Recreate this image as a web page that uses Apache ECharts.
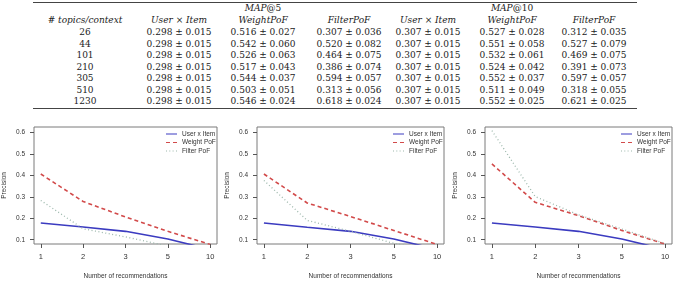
<!DOCTYPE html>
<html>
<head>
<meta charset="utf-8">
<script src="https://cdn.jsdelivr.net/npm/echarts@6/dist/echarts.min.js"></script>
<style>
  html, body { margin: 0; padding: 0; background: #fff; }
  #wrap { position: relative; width: 675px; height: 282px; overflow: hidden; }
  #chart { position: absolute; left: 0; top: 0; width: 675px; height: 282px; }
  #table { position: absolute; left: 0; top: 0; width: 675px; height: 115px;
    font-family: 'DejaVu Serif', serif; font-size: 9px; color: #222; }
  .cell { position: absolute; width: 110px; text-align: center; line-height: 12px; height: 12px; white-space: nowrap; }
  .rule { position: absolute; left: 33px; width: 604px; background: #444; }
</style>
</head>
<body>
<div id="wrap">
  <div id="table"></div>
  <div id="chart"></div>
</div>
<script>
// table values
var topics = [26, 44, 101, 210, 305, 510, 1230]
var map5User = [[0.298, 0.015], [0.298, 0.015], [0.298, 0.015], [0.298, 0.015], [0.298, 0.015], [0.298, 0.015], [0.298, 0.015]]
var map5Weight = [[0.516, 0.027], [0.542, 0.060], [0.526, 0.063], [0.517, 0.043], [0.544, 0.037], [0.503, 0.051], [0.546, 0.024]]
var map5Filter = [[0.307, 0.036], [0.520, 0.082], [0.464, 0.075], [0.386, 0.074], [0.594, 0.057], [0.313, 0.056], [0.618, 0.024]]
var map10User = [[0.307, 0.015], [0.307, 0.015], [0.307, 0.015], [0.307, 0.015], [0.307, 0.015], [0.307, 0.015], [0.307, 0.015]]
var map10Weight = [[0.527, 0.028], [0.551, 0.058], [0.532, 0.061], [0.524, 0.042], [0.552, 0.037], [0.511, 0.049], [0.552, 0.025]]
var map10Filter = [[0.312, 0.035], [0.527, 0.079], [0.469, 0.075], [0.391, 0.073], [0.597, 0.057], [0.318, 0.055], [0.621, 0.025]]

// chart values
var xLabels = ['1', '2', '3', '5', '10']
var xPos = [1, 2, 3, 4, 5]
var yTicks = [0.1, 0.2, 0.3, 0.4, 0.5, 0.6]
var seriesNames = ['User x Item', 'Weight PoF', 'Filter PoF']
var userItem1 = [0.178, 0.159, 0.139, 0.103, 0.055]
var weightPoF1 = [0.406, 0.278, 0.206, 0.139, 0.078]
var filterPoF1 = [0.283, 0.151, 0.113, 0.070, 0.040]
var userItem2 = [0.178, 0.158, 0.139, 0.103, 0.055]
var weightPoF2 = [0.406, 0.271, 0.208, 0.143, 0.078]
var filterPoF2 = [0.376, 0.190, 0.139, 0.083, 0.050]
var userItem3 = [0.178, 0.159, 0.139, 0.103, 0.055]
var weightPoF3 = [0.453, 0.274, 0.212, 0.143, 0.080]
var filterPoF3 = [0.608, 0.301, 0.216, 0.150, 0.082]

// ---- table ----
var tbl = document.getElementById('table')
var colX = [85, 179, 263, 349, 428, 512, 594]
function cell (x, y, html) {
  var d = document.createElement('div')
  d.className = 'cell'
  d.style.left = (x - 55) + 'px'
  d.style.top = (y - 6) + 'px'
  d.innerHTML = html
  tbl.appendChild(d)
}
function rule (y, h) {
  var d = document.createElement('div')
  d.className = 'rule'
  d.style.top = y + 'px'
  d.style.height = h + 'px'
  tbl.appendChild(d)
}
function pm (v) {
  return v[0].toFixed(3) + ' ± ' + v[1].toFixed(3)
}
rule(2, 1.2)
cell(colX[2], 8, '<i>MAP</i>@5')
cell(colX[5], 8, '<i>MAP</i>@10')
var heads = ['# <i>topics/context</i>', '<i>User</i> × <i>Item</i>', '<i>WeightPoF</i>', '<i>FilterPoF</i>',
  '<i>User</i> × <i>Item</i>', '<i>WeightPoF</i>', '<i>FilterPoF</i>']
heads.forEach(function (h, i) { cell(colX[i], 19.5, h) })
var cols = [map5User, map5Weight, map5Filter, map10User, map10Weight, map10Filter]
topics.forEach(function (t, r) {
  var y = 32 + r * 11.5
  cell(colX[0], y, String(t))
  cols.forEach(function (c, i) { cell(colX[i + 1], y, pm(c[r])) })
})
rule(107.5, 1.2)

// ---- charts ----
var chart = echarts.init(document.getElementById('chart'))
var grids = [{ left: 30 }, { left: 257 }, { left: 485 }]
var data = [
  [userItem1, weightPoF1, filterPoF1],
  [userItem2, weightPoF2, filterPoF2],
  [userItem3, weightPoF3, filterPoF3]
]
var lineStyles = [
  { color: '#3b3bc0', width: 1.6, type: 'solid' },
  { color: '#d24a4a', width: 1.6, type: [4, 3] },
  { color: '#9db8ac', width: 1.3, type: [1, 2.5] }
]
// legend icons drawn as short line samples
var legendIcons = [
  'path://M0,0h11v1h-11z',
  'path://M0,0h4v1h-4z M7,0h4v1h-4z',
  'path://M0,0h1v1h-1z M3.3,0h1v1h-1z M6.6,0h1v1h-1z M10,0h1v1h-1z'
]
var gw = 187
var gh = 117
var option = {
  animation: false,
  grid: [],
  xAxis: [],
  yAxis: [],
  legend: [],
  series: []
}
grids.forEach(function (g, i) {
  option.grid.push({
    left: g.left, top: 127, width: gw, height: gh,
    show: true, borderColor: '#7a7a7a', borderWidth: 1, backgroundColor: 'transparent'
  })
  option.xAxis.push({
    type: 'value', gridIndex: i, min: 0.84, max: 5.16,
    axisLine: { show: false },
    splitLine: { show: false },
    axisTick: { show: true, length: 4, customValues: xPos, lineStyle: { color: '#555' } },
    axisLabel: {
      customValues: xPos, margin: 9, fontSize: 7.5, color: '#333', fontFamily: 'Liberation Sans',
      formatter: function (v) { return xLabels[Math.round(v) - 1] }
    },
    name: 'Number of recommendations', nameLocation: 'middle', nameGap: 28.5,
    nameTextStyle: { fontSize: 6.5, color: '#333', fontFamily: 'Liberation Sans' }
  })
  option.yAxis.push({
    type: 'value', gridIndex: i, min: 0.08, max: 0.625,
    axisLine: { show: false },
    splitLine: { show: false },
    axisTick: { show: true, length: 4, customValues: yTicks, lineStyle: { color: '#555' } },
    axisLabel: {
      customValues: yTicks, margin: 9, fontSize: 6.5, color: '#333', fontFamily: 'Liberation Sans',
      formatter: function (v) { return v.toFixed(1) }
    },
    name: 'Precision', nameLocation: 'middle', nameGap: 26,
    nameTextStyle: { fontSize: 6.5, color: '#333', fontFamily: 'Liberation Sans' }
  })
  option.legend.push({
    orient: 'vertical', left: g.left + gw - 51, top: 130, padding: 0,
    itemWidth: 11, itemHeight: 1.6, itemGap: 0.5,
    textStyle: { fontSize: 6.5, color: '#333', fontFamily: 'Liberation Sans', lineHeight: 8 },
    data: seriesNames.map(function (n, k) { return { name: n, icon: legendIcons[k] } })
  })
  seriesNames.forEach(function (name, k) {
    option.series.push({
      name: name, type: 'line', xAxisIndex: i, yAxisIndex: i,
      symbol: 'none', clip: true,
      lineStyle: lineStyles[k], itemStyle: { color: lineStyles[k].color },
      data: xPos.map(function (p, j) { return [p, data[i][k][j]] })
    })
  })
})
chart.setOption(option)
</script>
</body>
</html>
